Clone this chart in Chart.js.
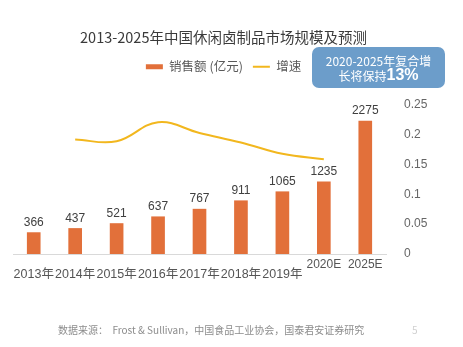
<!DOCTYPE html>
<html><head><meta charset="utf-8">
<script src="https://cdn.jsdelivr.net/npm/chart.js@4/dist/chart.umd.min.js"></script>
<style>html,body{margin:0;padding:0;background:#fff;}#wrap{width:463px;height:347px;position:relative;}</style>
</head><body><div id="wrap"><canvas id="c"></canvas></div>
<script>
const categories = ["2013年","2014年","2015年","2016年","2017年","2018年","2019年","2020E","2025E"];
const salesValues = [366, 437, 521, 637, 767, 911, 1065, 1235, 2275];
const growthValues = [null, 0.192, 0.189, 0.221, 0.203, 0.187, 0.168, 0.159, null];
const growthTicks = [0, 0.05, 0.1, 0.15, 0.2, 0.25];
const seriesNames = ["销售额 (亿元)", "增速"];
const titleText = "2013-2025年中国休闲卤制品市场规模及预测";
const calloutLine1 = "2020-2025年复合增";
const calloutLine2 = "长将保持";
const calloutValue = "13%";
const sourceText = "数据来源：  Frost & Sullivan，中国食品工业协会，国泰君安证券研究";
const pageNumber = "5";

const BAR = '#E2703A';
const LINE = '#F2B71E';
const CJK = '"Noto Sans CJK SC", sans-serif';
const LAT = '"Liberation Sans", "Noto Sans CJK SC", sans-serif';

const spacer = {
  id: 'spacer',
  beforeInit(chart) {
    Chart.layouts.addBox(chart, {
      position: 'top', weight: 0, fullSize: false, options: {},
      top: 0, left: 0, right: 0, bottom: 0, width: 0, height: 0,
      update(w) { this.width = w; this.height = 22; },
      isHorizontal() { return true; },
      draw() {}
    });
  }
};

const overlay = {
  id: 'overlay',
  afterDatasetsDraw(chart) {
    const ctx = chart.ctx;
    const meta = chart.getDatasetMeta(0);
    ctx.save();
    ctx.font = '12px ' + LAT;
    ctx.fillStyle = '#404040';
    ctx.textAlign = 'center';
    ctx.textBaseline = 'bottom';
    meta.data.forEach((bar, i) => ctx.fillText(String(salesValues[i]), bar.x, bar.y - 4));
    ctx.restore();
  },
  afterDraw(chart) {
    const ctx = chart.ctx;
    ctx.save();
    const x = 312, y = 47, w = 133, h = 41, r = 7;
    ctx.fillStyle = '#6C9DCA';
    ctx.beginPath();
    ctx.roundRect(x, y, w, h, r);
    ctx.fill();
    ctx.fillStyle = '#ffffff';
    ctx.textBaseline = 'middle';
    ctx.textAlign = 'center';
    ctx.font = '12px ' + CJK;
    ctx.fillText(calloutLine1, x + w / 2, 61);
    const w1 = ctx.measureText(calloutLine2).width;
    ctx.font = 'bold 16px ' + LAT;
    const w2 = ctx.measureText(calloutValue).width;
    const sx = x + w / 2 - (w1 + w2) / 2;
    ctx.textAlign = 'left';
    ctx.font = '12px ' + CJK;
    ctx.fillText(calloutLine2, sx, 76);
    ctx.font = 'bold 16px ' + LAT;
    ctx.fillText(calloutValue, sx + w1, 76);
    ctx.font = '10px ' + CJK;
    ctx.fillStyle = '#8c8c8c';
    ctx.fillText(sourceText, 58, 330);
    ctx.fillStyle = '#d0d0d0';
    ctx.fillText(pageNumber, 412, 330);
    ctx.restore();
  }
};

new Chart(document.getElementById('c'), {
  data: {
    labels: categories,
    datasets: [
      { type: 'bar', label: seriesNames[0], data: salesValues, backgroundColor: BAR,
        yAxisID: 'y', barThickness: 13 },
      { type: 'line', label: seriesNames[1], data: growthValues, borderColor: LINE, backgroundColor: LINE,
        borderWidth: 2, pointRadius: 0, tension: 0.4, yAxisID: 'y1' }
    ]
  },
  options: {
    responsive: true, maintainAspectRatio: false, animation: false,
    layout: { padding: { left: 13, right: 29, top: 0, bottom: 53 } },
    plugins: {
      tooltip: { enabled: false },
      title: { display: true, text: titleText, color: '#3a3a3a',
        font: { family: CJK, size: 14.5, weight: 'normal' }, padding: { top: 29, bottom: 4 } },
      legend: { display: true, position: 'top',
        labels: { color: '#595959', font: { family: CJK, size: 12.5 }, usePointStyle: true,
          pointStyleWidth: 17, boxHeight: 5, padding: 10,
          generateLabels(chart) {
            const items = Chart.defaults.plugins.legend.labels.generateLabels(chart);
            items.forEach(it => {
              const ds = chart.data.datasets[it.datasetIndex];
              if (ds.type === 'line') { it.pointStyle = 'line'; it.strokeStyle = ds.borderColor; it.lineWidth = 2; }
              else { it.pointStyle = 'rect'; it.lineWidth = 0; it.fillStyle = ds.backgroundColor; }
            });
            return items;
          } } }
    },
    scales: {
      x: {
        grid: { display: false, drawTicks: false },
        border: { display: true, color: '#d9d9d9', width: 1 },
        afterFit(s) { s.height = 40; },
        ticks: { color: '#555', maxRotation: 0, autoSkip: false, padding: 11, crossAlign: 'center',
          font: (c) => ({ family: LAT, size: c.index >= 7 ? 12 : 12.5, lineHeight: '19px' }),
          callback(v, i) { const l = categories[i]; return i >= 7 ? [l, ''] : l; } }
      },
      y: { display: false, min: 0, max: 2550 },
      y1: {
        position: 'right', min: 0, max: 0.25,
        grid: { display: false }, border: { display: false },
        afterBuildTicks(s) { s.ticks = growthTicks.map(v => ({ value: v })); },
        afterFit(s) { s.width = 48; },
        ticks: { color: '#666', padding: 10, font: { family: LAT, size: 12 },
          callback: (v) => String(+Number(v).toFixed(2)) }
      }
    }
  },
  plugins: [spacer, overlay]
});
</script></body></html>
